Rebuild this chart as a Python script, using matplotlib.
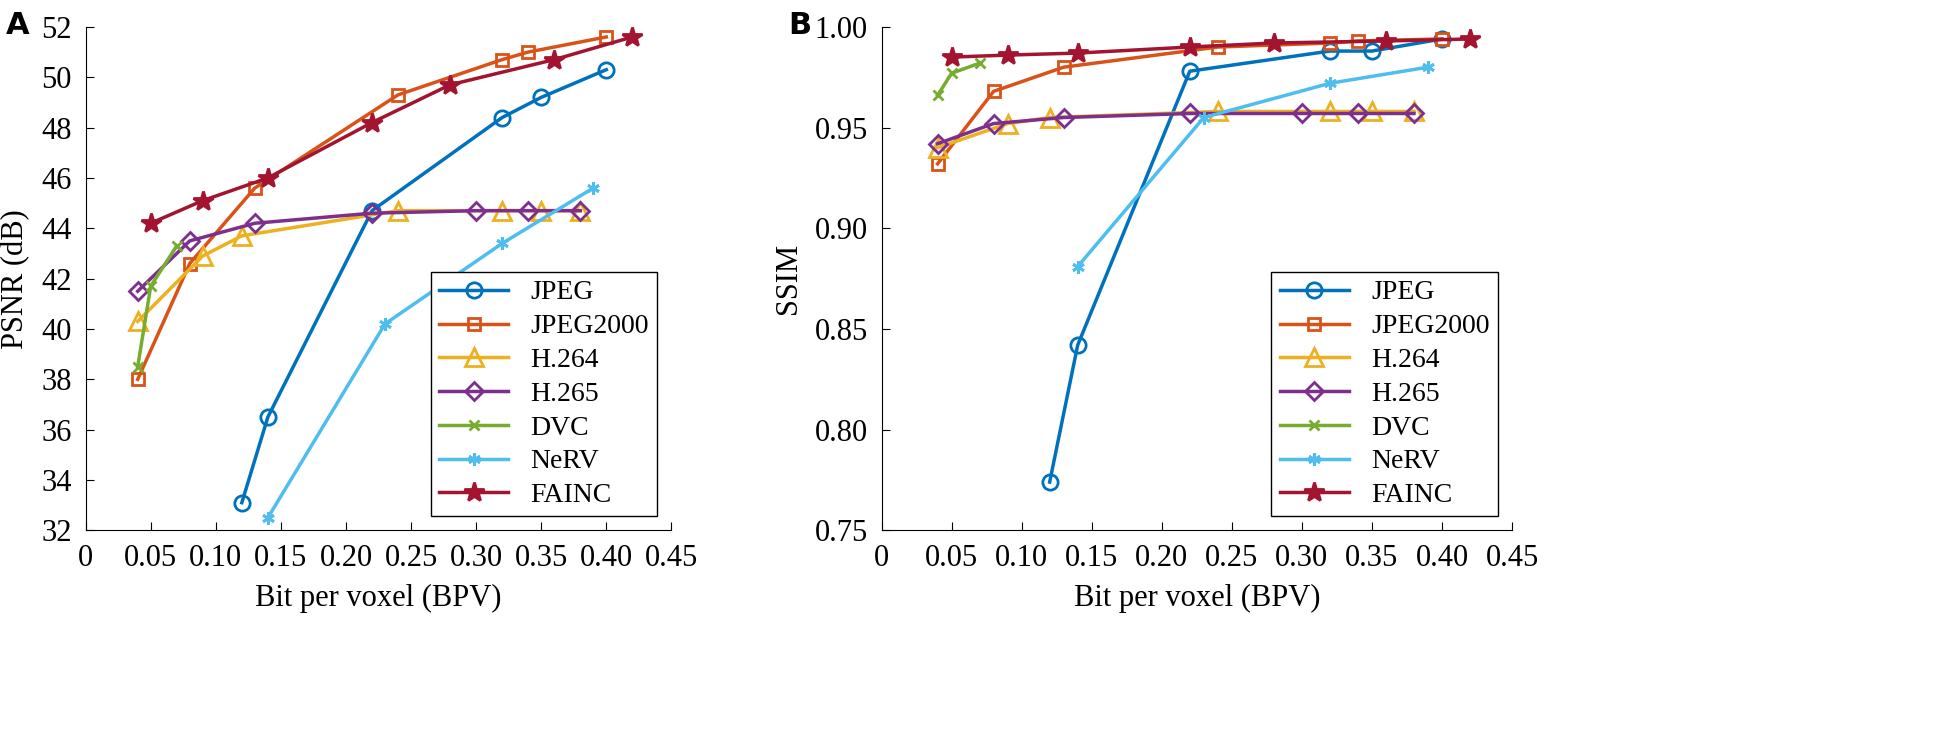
import matplotlib.pyplot as plt

plt.rcParams['font.family'] = ['Liberation Serif', 'DejaVu Serif']

names = ["JPEG", "JPEG2000", "H.264", "H.265", "DVC", "NeRV", "FAINC"]
colors = ["#0072BD", "#D95319", "#EDB120", "#7E2F8E", "#77AC30", "#4DBEEE", "#A2142F"]
markers = ["o", "s", "^", "D", "x", (6, 2, 0), "*"]
msizes = [11, 8, 13, 9, 7, 9, 15]

# bit per voxel for each method
bpv = {
    "JPEG": [0.12, 0.14, 0.22, 0.32, 0.35, 0.40],
    "JPEG2000": [0.04, 0.08, 0.13, 0.24, 0.32, 0.34, 0.40],
    "H.264": [0.04, 0.09, 0.12, 0.24, 0.32, 0.35, 0.38],
    "H.265": [0.04, 0.08, 0.13, 0.22, 0.30, 0.34, 0.38],
    "DVC": [0.04, 0.05, 0.07],
    "NeRV": [0.14, 0.23, 0.32, 0.39],
    "FAINC": [0.05, 0.09, 0.14, 0.22, 0.28, 0.36, 0.42],
}
psnr = {
    "JPEG": [33.1, 36.5, 44.7, 48.4, 49.2, 50.3],
    "JPEG2000": [38.0, 42.6, 45.6, 49.3, 50.7, 51.0, 51.6],
    "H.264": [40.3, 42.9, 43.7, 44.7, 44.7, 44.7, 44.7],
    "H.265": [41.5, 43.5, 44.2, 44.6, 44.7, 44.7, 44.7],
    "DVC": [38.5, 41.7, 43.3],
    "NeRV": [32.5, 40.2, 43.4, 45.6],
    "FAINC": [44.2, 45.1, 46.0, 48.2, 49.7, 50.7, 51.6],
}
ssim = {
    "JPEG": [0.774, 0.842, 0.978, 0.988, 0.988, 0.994],
    "JPEG2000": [0.932, 0.968, 0.980, 0.990, 0.992, 0.993, 0.994],
    "H.264": [0.940, 0.952, 0.955, 0.958, 0.958, 0.958, 0.958],
    "H.265": [0.942, 0.952, 0.955, 0.957, 0.957, 0.957, 0.957],
    "DVC": [0.966, 0.977, 0.982],
    "NeRV": [0.881, 0.955, 0.972, 0.980],
    "FAINC": [0.985, 0.986, 0.987, 0.990, 0.992, 0.993, 0.994],
}

fig = plt.figure(figsize=(19.46, 7.47), dpi=100)
ax1 = fig.add_axes([0.044, 0.29, 0.301, 0.674])
ax2 = fig.add_axes([0.453, 0.29, 0.324, 0.674])

def draw(ax, vals, ylim, yticks, yfmt, ylabel):
    for n, c, m, s in zip(names, colors, markers, msizes):
        filled = n == "FAINC"
        ax.plot(bpv[n], vals[n], color=c, marker=m, markersize=s, linewidth=2.5,
                markerfacecolor=c if filled else "none", markeredgewidth=2, label=n)
    ax.set_xlim(0, 0.45)
    ax.set_ylim(*ylim)
    ax.set_xticks([0, 0.05, 0.1, 0.15, 0.2, 0.25, 0.3, 0.35, 0.4, 0.45])
    ax.set_xticklabels(["0", "0.05", "0.10", "0.15", "0.20", "0.25", "0.30", "0.35", "0.40", "0.45"])
    ax.set_yticks(yticks)
    ax.set_yticklabels([yfmt.format(v) for v in yticks])
    ax.tick_params(direction="in", labelsize=22, length=6, pad=10)
    ax.spines["top"].set_visible(False)
    ax.spines["right"].set_visible(False)
    ax.set_xlabel("Bit per voxel (BPV)", fontsize=22, labelpad=8)
    ax.set_ylabel(ylabel, fontsize=22, labelpad=8)
    leg = ax.legend(loc="lower right", fontsize=20, fancybox=False, framealpha=1,
                    edgecolor="black", handlelength=2.5, borderpad=0.3, labelspacing=0.3)
    leg.get_frame().set_linewidth(1)

draw(ax1, psnr, (32, 52), list(range(32, 53, 2)), "{:d}", "PSNR (dB)")
draw(ax2, ssim, (0.75, 1.0), [0.75, 0.8, 0.85, 0.9, 0.95, 1.0], "{:.2f}", "SSIM")

fig.text(0.003, 0.955, "A", fontsize=22, fontweight="bold", family="DejaVu Sans")
fig.text(0.405, 0.955, "B", fontsize=22, fontweight="bold", family="DejaVu Sans")

fig.savefig("out.png", dpi=100)
